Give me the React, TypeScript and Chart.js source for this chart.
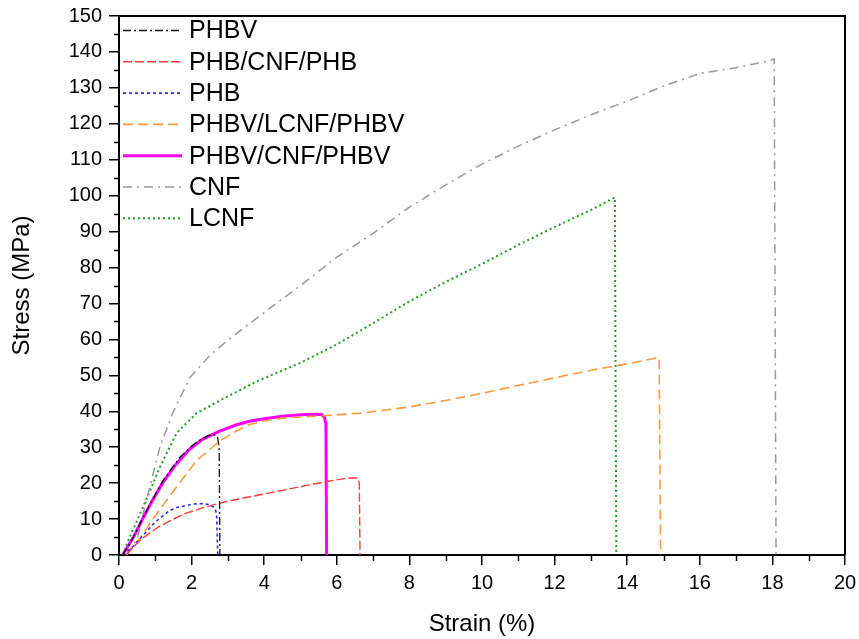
import React, { useEffect, useRef } from 'react';
import { Chart, registerables } from 'chart.js';

Chart.register(...registerables);

// ---- Data ----
const seriesNames = ['PHBV', 'PHB/CNF/PHB', 'PHB', 'PHBV/LCNF/PHBV', 'PHBV/CNF/PHBV', 'CNF', 'LCNF'];

const phbvX = [0.1, 0.4, 0.64, 0.9, 1.2, 1.66, 2.0, 2.2, 2.45, 2.6, 2.71, 2.76, 2.78];
const phbvY = [0, 5, 10, 15, 20.5, 27, 30.3, 31.8, 33.2, 33.6, 33, 30, 0];

const phbCnfX = [0.2, 0.4, 0.64, 1.1, 1.5, 1.84, 2.3, 2.76, 3.3, 3.86, 4.5, 5.24, 5.8, 6.16, 6.45, 6.57, 6.62, 6.64];
const phbCnfY = [0, 2.3, 4.6, 7.9, 10, 11.6, 13.1, 14.4, 15.6, 16.7, 18, 19.5, 20.6, 21.2, 21.5, 21.4, 20, 0];

const phbX = [0.1, 0.4, 0.64, 1.0, 1.38, 1.59, 2.05, 2.3, 2.5, 2.65, 2.69, 2.72];
const phbY = [0, 2.5, 5.2, 9.2, 12.3, 13.2, 14.2, 14.3, 14, 13, 11, 0];

const phbvLcnfX = [0.2, 0.5, 0.92, 1.38, 1.8, 2.12, 2.76, 3.2, 3.59, 4.0, 4.5, 5.5, 6.7, 8, 9, 10, 11, 12, 13, 14, 14.6, 14.88, 14.92];
const phbvLcnfY = [0, 3.5, 9.8, 16.2, 21.8, 26.1, 31.6, 34.3, 36.3, 37.3, 38.1, 38.7, 39.5, 41.2, 43, 45, 47.2, 49.3, 51.4, 53.2, 54.4, 55, 0];

const phbvCnfX = [0.1, 0.4, 0.64, 0.9, 1.2, 1.55, 1.93, 2.3, 2.76, 3.2, 3.59, 4.0, 4.5, 5.0, 5.43, 5.58, 5.66, 5.7, 5.72];
const phbvCnfY = [0, 5, 9.8, 14.8, 20, 25, 29.3, 32.2, 34.4, 36.1, 37.2, 37.9, 38.6, 39, 39.2, 39.1, 38.3, 36.5, 0];

const cnfX = [0.2, 0.5, 0.8, 1.13, 1.5, 1.96, 2.5, 3, 4, 5, 6, 7, 8, 9, 10, 11, 12, 13, 14, 15, 16, 17, 17.9, 18.05, 18.1];
const cnfY = [0, 4.5, 17, 30.2, 40, 49.5, 55.5, 59.8, 67.5, 75, 82.9, 89.5, 96.8, 103, 108.8, 113.8, 118.3, 122.5, 126.3, 130.5, 134, 135.6, 137.5, 138, 0];

const lcnfX = [0.1, 0.3, 0.67, 1.13, 1.59, 2.14, 2.78, 3.79, 5, 6, 7, 8, 9, 10, 11, 12, 13, 13.6, 13.66, 13.7];
const lcnfY = [0, 5.1, 13.5, 24.5, 34, 39.5, 43, 48.3, 53.5, 58.6, 64.5, 70.6, 76, 81, 86.3, 91.3, 96, 99.2, 99.5, 0];

const xTickMin = 0;
const xTickMax = 20;
const xTickStep = 2;
const yTickMin = 0;
const yTickMax = 150;
const yTickStep = 10;
const xMinorTicks = [1, 3, 5, 7, 9, 11, 13, 15, 17, 19];
const yMinorTicks = [5, 15, 25, 35, 45, 55, 65, 75, 85, 95, 105, 115, 125, 135, 145];

const xTitle = 'Strain (%)';
const yTitle = 'Stress (MPa)';

const FONT = '"Liberation Sans", Arial, sans-serif';

function pts(xs: number[], ys: number[]) {
  return xs.map((x, i) => ({ x, y: ys[i] }));
}

const seriesData = [
  pts(phbvX, phbvY),
  pts(phbCnfX, phbCnfY),
  pts(phbX, phbY),
  pts(phbvLcnfX, phbvLcnfY),
  pts(phbvCnfX, phbvCnfY),
  pts(cnfX, cnfY),
  pts(lcnfX, lcnfY),
];

const seriesStyles = [
  { color: '#111111', width: 1.3, dash: [8, 3, 2, 3] },
  { color: '#ff3b3b', width: 1.4, dash: [9, 3] },
  { color: '#2b2bff', width: 1.6, dash: [3, 3] },
  { color: '#ff9a3c', width: 1.6, dash: [10, 5] },
  { color: '#ff00ff', width: 3, dash: [] as number[] },
  { color: '#9a9a9a', width: 1.5, dash: [9, 5, 2, 5] },
  { color: '#1f9e1f', width: 2, dash: [2, 3] },
];

const framePlugin = {
  id: 'frameAndLegend',
  afterDraw(chart: any) {
    const { ctx, chartArea: a, scales } = chart;
    ctx.save();
    // top & right frame
    ctx.strokeStyle = '#000';
    ctx.lineWidth = 2;
    ctx.setLineDash([]);
    ctx.beginPath();
    ctx.moveTo(a.left - 1, a.top);
    ctx.lineTo(a.right, a.top);
    ctx.lineTo(a.right, a.bottom);
    ctx.stroke();
    // minor ticks
    ctx.lineWidth = 1.5;
    ctx.beginPath();
    for (const v of yMinorTicks) {
      const py = Math.round(scales.y.getPixelForValue(v)) + 0.5;
      ctx.moveTo(a.left, py);
      ctx.lineTo(a.left - 5, py);
    }
    for (const v of xMinorTicks) {
      const px = Math.round(scales.x.getPixelForValue(v)) + 0.5;
      ctx.moveTo(px, a.bottom);
      ctx.lineTo(px, a.bottom + 6);
    }
    ctx.stroke();
    // legend inside plot
    const ds = chart.data.datasets;
    const top = 30.5;
    const step = 31.3;
    ctx.font = `25px ${FONT}`;
    ctx.textBaseline = 'middle';
    ctx.textAlign = 'left';
    ds.forEach((d: any, i: number) => {
      const y = top + i * step;
      ctx.strokeStyle = d.borderColor;
      ctx.lineWidth = d.borderWidth;
      ctx.setLineDash(d.borderDash || []);
      ctx.beginPath();
      ctx.moveTo(123, y);
      ctx.lineTo(182, y);
      ctx.stroke();
      ctx.setLineDash([]);
      ctx.fillStyle = '#000';
      ctx.fillText(d.label, 189, y + 1);
    });
    ctx.restore();
  },
};

export default function App() {
  const ref = useRef<HTMLCanvasElement>(null);
  useEffect(() => {
    if (!ref.current) return;
    const chart = new Chart(ref.current, {
      type: 'scatter',
      data: {
        datasets: seriesNames.map((name, i) => ({
          label: name,
          data: seriesData[i],
          showLine: true,
          borderColor: seriesStyles[i].color,
          backgroundColor: seriesStyles[i].color,
          borderWidth: seriesStyles[i].width,
          borderDash: seriesStyles[i].dash,
          pointRadius: 0,
          tension: 0,
          fill: false,
        })),
      },
      options: {
        responsive: false,
        animation: false,
        layout: { padding: { top: 16, right: 14, left: 0, bottom: 0 } },
        plugins: { legend: { display: false }, tooltip: { enabled: false } },
        scales: {
          x: {
            type: 'linear',
            min: xTickMin,
            max: xTickMax,
            afterFit: (s: any) => { s.height = 84; s.paddingLeft = 0; s.paddingRight = 0; },
            ticks: { stepSize: xTickStep, color: '#000', font: { family: FONT, size: 20 }, padding: 6 },
            grid: { drawOnChartArea: false, color: '#000', lineWidth: 1.5, tickLength: 10 },
            border: { color: '#000', width: 2 },
            title: { display: true, text: xTitle, color: '#000', font: { family: FONT, size: 24 }, padding: { top: 0, bottom: 0 } },
          },
          y: {
            type: 'linear',
            min: yTickMin,
            max: yTickMax,
            afterFit: (s: any) => { s.width = 119; s.paddingTop = 0; s.paddingBottom = 0; },
            ticks: { stepSize: yTickStep, color: '#000', font: { family: FONT, size: 20 }, padding: 7 },
            grid: { drawOnChartArea: false, color: '#000', lineWidth: 1.5, tickLength: 10 },
            border: { color: '#000', width: 2 },
            title: { display: true, text: yTitle, color: '#000', font: { family: FONT, size: 24 }, padding: { top: 8, bottom: 0 } },
          },
        },
      },
      plugins: [framePlugin],
    });
    return () => chart.destroy();
  }, []);
  return (
    <div style={{ position: 'fixed', left: 0, top: 0, width: 859, height: 639, background: '#fff' }}>
      <canvas ref={ref} width={859} height={639} style={{ width: 859, height: 639 }} />
    </div>
  );
}
